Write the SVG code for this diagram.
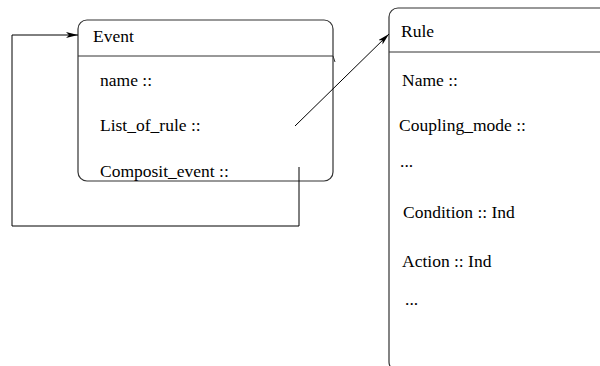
<svg xmlns="http://www.w3.org/2000/svg" width="600" height="366" viewBox="0 0 600 366">
<style>
.box{fill:none;stroke:#333;stroke-width:1.2}
.sep{stroke:#333;stroke-width:1}
.t{font-family:"Liberation Serif","Times New Roman",serif;font-size:17.5px;fill:#000}
.c{fill:none;stroke:#000;stroke-width:1}
</style>
<defs>
<marker id="ah" markerWidth="12" markerHeight="6" refX="12" refY="3" orient="auto" markerUnits="userSpaceOnUse">
<path d="M0,0 L12,3 L0,6 L3,3 Z" fill="#000"/>
</marker>
</defs>
<rect width="600" height="366" fill="#fff"/>
<g id="event">
<rect class="box" x="78" y="20" width="255" height="161" rx="9" ry="9"/>
<line class="sep" x1="78" y1="56" x2="333" y2="56"/>
<line class="sep" x1="333" y1="56" x2="335" y2="62"/>
<text class="t" x="93" y="42">Event</text>
<text class="t" x="100" y="86">name ::</text>
<text class="t" x="100" y="131">List_of_rule ::</text>
<text class="t" x="100" y="177">Composit_event ::</text>
</g>
<g id="rule">
<rect class="box" x="389" y="8" width="230" height="363" rx="9" ry="9"/>
<line class="sep" x1="389" y1="52" x2="600" y2="52"/>
<text class="t" x="401" y="37">Rule</text>
<text class="t" x="402" y="86">Name ::</text>
<text class="t" x="399" y="131">Coupling_mode ::</text>
<text class="t" x="400" y="167">...</text>
<text class="t" x="403" y="218">Condition ::  Ind</text>
<text class="t" x="402" y="267">Action :: Ind</text>
<text class="t" x="405" y="305">...</text>
</g>
<g id="connectors">
<polyline class="c" points="299,167 299,226 12,226 12,35 78,35" marker-end="url(#ah)"/>
<line class="c" x1="295" y1="126" x2="389" y2="34" marker-end="url(#ah)"/>
</g>
</svg>
